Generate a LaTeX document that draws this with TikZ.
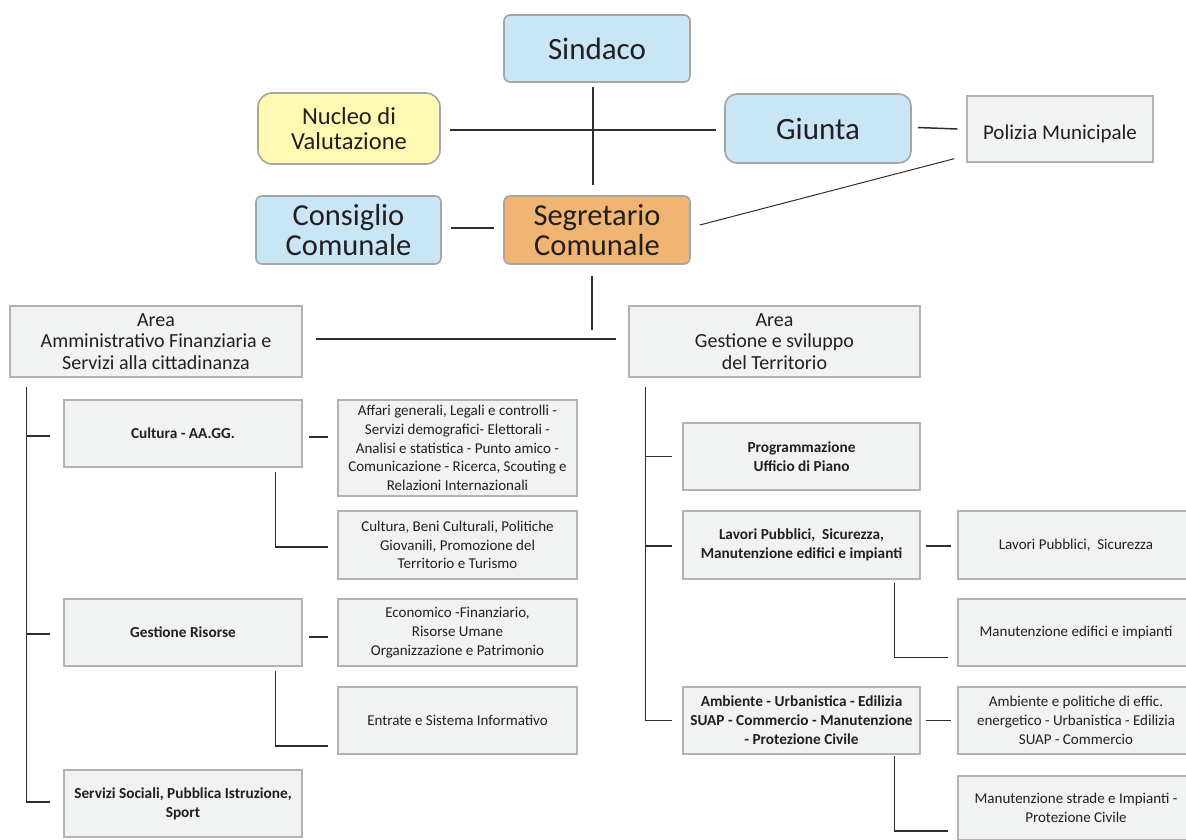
\documentclass[tikz,border=0pt]{standalone}
\usepackage{fontspec}
\setmainfont{Carlito}
\usetikzlibrary{calc}
\definecolor{bluef}{HTML}{C9E6F6}
\definecolor{yellowf}{HTML}{FFF9B3}
\definecolor{orangef}{HTML}{F0B573}
\definecolor{grayf}{HTML}{F1F2F2}
\definecolor{grayline}{HTML}{B3B3B3}
\definecolor{boxline}{HTML}{A5A5A5}
\definecolor{txt}{HTML}{231F20}
\definecolor{conn}{HTML}{2E2E2E}
\begin{document}
\begin{tikzpicture}[x=1pt,y=-1pt,
  topbox/.style={draw=boxline, line width=1.6pt, inner sep=2pt, align=center, text=txt, rounded corners=6pt},
  bigtxt/.style={font=\fontsize{31}{32}\selectfont},
  box/.style={draw=grayline, fill=grayf, line width=1.3pt, inner sep=1pt, align=center, text=txt, font=\fontsize{15}{18.7}\selectfont},
  boldbox/.style={box, font=\fontsize{15.3}{19}\selectfont\bfseries},
  areabox/.style={box, font=\fontsize{20}{21.5}\selectfont},
  link/.style={draw=conn, line width=1.5pt}
]
\useasboundingbox (0,0) rectangle (1186,839);

% top level
\node[topbox, bigtxt, fill=bluef, minimum width=186pt, minimum height=67pt] (sind) at (597,48.5) {Sindaco};
\node[topbox, fill=yellowf, rounded corners=14pt, font=\fontsize{24.5}{25}\selectfont, minimum width=182pt, minimum height=71pt] (nuc) at (349,128.5) {Nucleo di\\Valutazione};
\node[topbox, bigtxt, fill=bluef, rounded corners=12pt, minimum width=186pt, minimum height=69pt] (giu) at (818,128.5) {Giunta};
\node[box, font=\fontsize{21}{22}\selectfont, minimum width=186pt, minimum height=66pt] (pol) at (1060,129) {\rule{0pt}{25pt}Polizia Municipale};
\node[topbox, fill=bluef, font=\fontsize{30.5}{30}\selectfont, minimum width=185pt, minimum height=68pt] (con) at (348.5,230) {Consiglio\\Comunale};
\node[topbox, fill=orangef, font=\fontsize{30.5}{30}\selectfont, minimum width=186pt, minimum height=68pt] (seg) at (597,230) {Segretario\\Comunale};

% areas
\node[areabox, minimum width=292pt, minimum height=71pt] (areaA) at (156,341.5) {Area\\Amministrativo Finanziaria e\\Servizi alla cittadinanza};
\node[areabox, minimum width=291pt, minimum height=71pt] (areaB) at (774.5,341.5) {Area\\Gestione e sviluppo\\del Territorio};

% left column
\node[boldbox, minimum width=238pt, minimum height=67pt] (cult) at (183,433.5) {Cultura - AA.GG.};
\node[box, minimum width=239pt, minimum height=96pt] (aff) at (457.5,448) {Affari generali, Legali e controlli -\\Servizi demografici- Elettorali -\\Analisi e statistica - Punto amico -\\Comunicazione - Ricerca, Scouting e\\Relazioni Internazionali};
\node[box, minimum width=239pt, minimum height=68pt] (beni) at (457.5,545) {Cultura, Beni Culturali, Politiche\\Giovanili, Promozione del\\Territorio e Turismo};
\node[boldbox, minimum width=238pt, minimum height=67pt] (gest) at (183,632.5) {Gestione Risorse};
\node[box, minimum width=239pt, minimum height=67pt] (eco) at (457.5,632.5) {Economico -Finanziario,\\Risorse Umane\\Organizzazione e Patrimonio};
\node[box, minimum width=239pt, minimum height=67pt] (entr) at (457.5,720.5) {Entrate e Sistema Informativo};
\node[boldbox, minimum width=238pt, minimum height=67pt] (serv) at (183,803.5) {Servizi Sociali, Pubblica Istruzione,\\Sport};

% right column
\node[boldbox, minimum width=237pt, minimum height=67pt] (prog) at (801.5,456.5) {Programmazione\\Ufficio di Piano};
\node[boldbox, minimum width=237pt, minimum height=68pt] (lav) at (801.5,545) {Lavori Pubblici,\ \ Sicurezza,\\Manutenzione edifici e impianti};
\node[boldbox, minimum width=237pt, minimum height=67pt] (amb) at (801.5,720.5) {Ambiente - Urbanistica - Edilizia\\SUAP - Commercio - Manutenzione\\- Protezione Civile};
\node[box, minimum width=236pt, minimum height=68pt] (lavps) at (1076,545) {Lavori Pubblici,\ \ Sicurezza};
\node[box, minimum width=236pt, minimum height=67pt] (manut) at (1076,632.5) {Manutenzione edifici e impianti};
\node[box, minimum width=236pt, minimum height=67pt] (ambp) at (1076,720.5) {Ambiente e politiche di effic.\\energetico - Urbanistica - Edilizia\\SUAP - Commercio};
\node[box, minimum width=236pt, minimum height=64pt] (mstr) at (1076,808) {Manutenzione strade e Impianti -\\Protezione Civile};

% top connectors
\draw[link] ([xshift=-4pt,yshift=-4pt]sind.south) -- ([xshift=-4pt,yshift=10pt]seg.north);
\draw[link] ([xshift=9pt,yshift=-1.5pt]nuc.east) -- ([xshift=-8pt,yshift=-1.5pt]giu.west);
\draw[link] ([xshift=6pt,yshift=1pt]giu.east) -- ([xshift=-9pt]pol.west);
\draw[link] ([xshift=9pt,yshift=2pt]con.east) -- ([xshift=-9pt,yshift=2pt]seg.west);
\draw[draw=conn, line width=1pt] ([shift={(9,-5)}]seg.east) -- ([shift={(-12,-4)}]pol.south west);
\draw[link] ([xshift=-5pt,yshift=-11pt]seg.south) -- ([xshift=-5pt,yshift=-65pt]seg.south);
\draw[link] ([xshift=13pt,yshift=2.5pt]areaA.east) -- ([xshift=-12pt,yshift=2.5pt]areaB.west);

% left tree
\coordinate (tA) at ([xshift=17pt,yshift=-9pt]areaA.south west);
\draw[link] (tA) |- ([xshift=-13pt,yshift=1.5pt]serv.west);
\draw[link] (tA |- cult.west) ++(0,2.5) -- ([xshift=-13pt,yshift=-2.5pt]cult.west);
\draw[link] (tA |- gest.west) ++(0,1.5) -- ([xshift=-13pt,yshift=-1.5pt]gest.west);
\draw[link] ([xshift=6pt,yshift=-3.5pt]cult.east) -- ([xshift=-9pt,yshift=-3.5pt]cult.east -| aff.west);
\draw[link] ([xshift=-27pt,yshift=-4pt]cult.south east) |- ([xshift=-9pt,yshift=-2pt]beni.west);
\draw[link] ([xshift=6pt,yshift=-4.5pt]gest.east) -- ([xshift=-9pt,yshift=-4.5pt]gest.east -| eco.west);
\draw[link] ([xshift=-27pt,yshift=-4pt]gest.south east) |- ([xshift=-9pt,yshift=-25.5pt]entr.west);

% right tree
\coordinate (tB) at ([xshift=17pt,yshift=-9pt]areaB.south west);
\draw[link] (tB) |- ([xshift=-10pt]amb.west);
\draw[link] (tB |- prog.west) -- ([xshift=-10pt]prog.west);
\draw[link] (tB |- lav.west) ++(0,1) -- ([xshift=-10pt,yshift=-1pt]lav.west);
\draw[link] ([xshift=5pt,yshift=-1pt]lav.east) -- ([xshift=-6pt,yshift=-1pt]lavps.west);
\draw[link] ([xshift=-26pt,yshift=-3pt]lav.south east) |- ([xshift=-9pt,yshift=-25pt]manut.west);
\draw[link] ([xshift=5pt]amb.east) -- ([xshift=-6pt]ambp.west);
\draw[link] ([xshift=-26pt,yshift=-1pt]amb.south east) |- ([xshift=-9pt,yshift=-23pt]mstr.west);
\end{tikzpicture}
\end{document}
